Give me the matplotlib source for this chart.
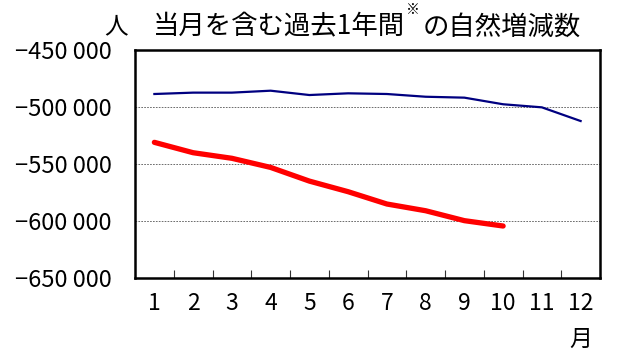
import matplotlib
matplotlib.use("Agg")
import matplotlib.pyplot as plt
from matplotlib.ticker import FixedLocator, FuncFormatter

plt.rcParams['font.family'] = ['Noto Sans CJK JP', 'DejaVu Sans']

# data (values in persons)
months = [1, 2, 3, 4, 5, 6, 7, 8, 9, 10, 11, 12]
prev_year = [-488600, -487400, -487400, -485700, -489500, -488000,
             -488600, -491000, -491800, -497600, -500300, -512300]
this_months = [1, 2, 3, 4, 5, 6, 7, 8, 9, 10]
this_year = [-531000, -540100, -545000, -553000, -565000, -574300,
             -585100, -591000, -599700, -604400]
y_ticks = [-650000, -600000, -550000, -500000, -450000]

W, H = 630, 362
fig = plt.figure(figsize=(W / 100, H / 100), dpi=100)
ax = fig.add_axes([135 / W, 1 - 278 / H, 465 / W, 228 / H])

ax.plot(months, prev_year, color="#000080", lw=1.6, zorder=3)
ax.plot(this_months, this_year, color="#ff0000", lw=3.8, zorder=4,
        solid_capstyle="round")

ax.set_xlim(0.5, 12.5)
ax.set_ylim(-650000, -450000)

for y in y_ticks[1:-1]:
    ax.axhline(y, color="#555555", lw=0.6, ls=(0, (2, 1.5)), zorder=1)

def fmt(v, pos):
    s = f"{abs(int(v)):,}".replace(",", " ")
    return ("\u2212" if v < 0 else "") + s

ax.yaxis.set_major_locator(FixedLocator(y_ticks))
ax.yaxis.set_major_formatter(FuncFormatter(fmt))
ax.tick_params(axis="y", length=0, pad=17, labelsize=17)

# category ticks between months, labels at month centres
ax.set_xticks([m + 0.5 for m in months[:-1]])
ax.set_xticklabels([])
ax.tick_params(axis="x", direction="in", length=6, width=0.8, color="#333333")
for m in months:
    ax.text(m, -662000, str(m), ha="center", va="top", fontsize=16.5)
ax.text(12, -694000, "月", ha="center", va="top", fontsize=16.5)

for sp in ax.spines.values():
    sp.set_linewidth(1.8)

# title
ty = 1 - 27 / H
fig.text(116 / W, ty, "人", ha="center", va="center", fontsize=17)
fig.text(153 / W, ty, "当月を含む過去1年間", ha="left", va="center", fontsize=19)
fig.text(413 / W, 1 - 10 / H, "※", ha="center", va="center", fontsize=10)
fig.text(423 / W, ty, "の自然増減数", ha="left", va="center", fontsize=19)

fig.savefig("out.png", dpi=100)
